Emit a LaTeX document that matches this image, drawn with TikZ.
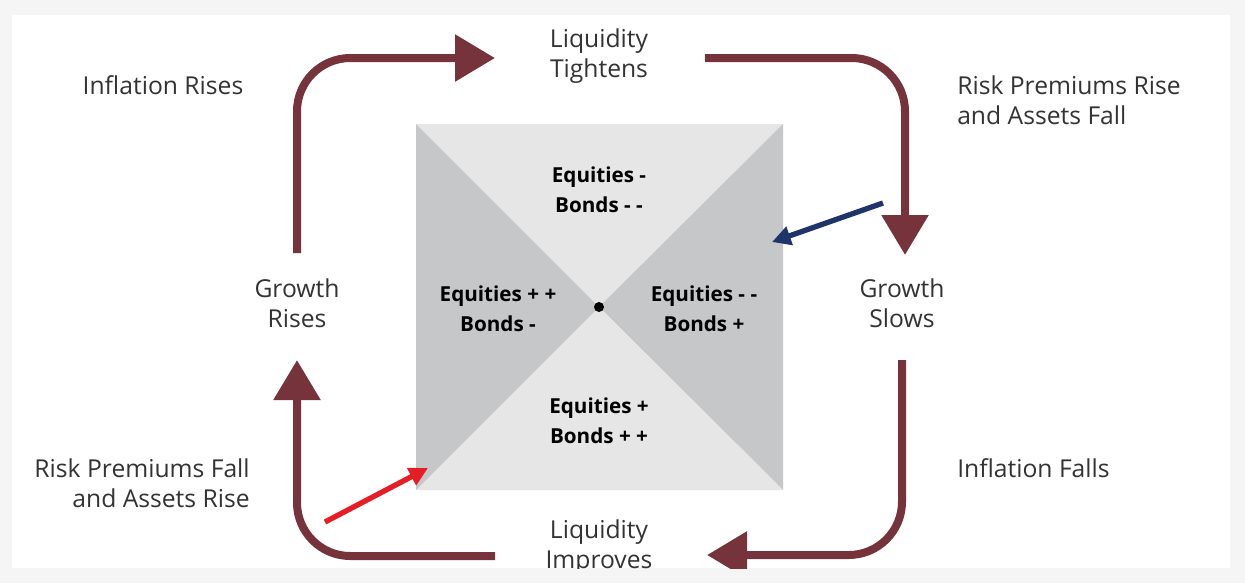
\documentclass[tikz,border=0pt]{standalone}
\usepackage{fontspec}
\setmainfont{Open Sans}
\usetikzlibrary{arrows.meta}
\definecolor{maroon}{HTML}{76333B}
\definecolor{navy}{HTML}{1F3468}
\definecolor{rd}{HTML}{E31E24}
\definecolor{lite}{HTML}{E6E6E6}
\definecolor{dark}{HTML}{C6C7C9}
\begin{document}
\begin{tikzpicture}[x=0.75pt,y=-0.75pt,
  lbl/.style={font=\fontsize{18.5}{22.5}\selectfont,text=black!80,align=center,inner sep=0pt},
  eq/.style={font=\bfseries\fontsize{15.5}{22.5}\selectfont,align=center,inner sep=0pt},
  cyc/.style={draw=maroon,line width=6pt,-{Triangle[length=30pt,width=34pt]},rounded corners=40pt},
  pt/.style={line width=4pt,-{Triangle[length=14pt,width=14pt]}}]
\useasboundingbox (0,0) rectangle (1245,583);
\fill[black!4] (0,0) rectangle (1245,583);
\fill[white] (12,15) rectangle (1230,568);
\begin{scope}
\clip (12,15) rectangle (1230,568);
\coordinate (A) at (416,124); \coordinate (B) at (783,124);
\coordinate (C) at (783,490); \coordinate (D) at (416,490);
\coordinate (O) at (599,307);
\fill[lite] (A)--(B)--(O)--cycle;
\fill[dark] (B)--(C)--(O)--cycle;
\fill[lite] (C)--(D)--(O)--cycle;
\fill[dark] (D)--(A)--(O)--cycle;
\fill (O) circle (5);
\coordinate (s1) at (297,253); \coordinate (c1) at (297,58); \coordinate (e1) at (495,58);
\coordinate (s2) at (705,58); \coordinate (c2) at (905,58); \coordinate (e2) at (905,255);
\coordinate (s3) at (902,360); \coordinate (c3) at (902,555); \coordinate (e3) at (707,555);
\coordinate (s4) at (495,556); \coordinate (c4) at (297,556); \coordinate (e4) at (297,360);
\draw[cyc] (s1)--(c1)--(e1);
\draw[cyc] (s2)--(c2)--(e2);
\draw[cyc] (s3)--(c3)--(e3);
\draw[cyc] (s4)--(c4)--(e4);
\coordinate (b1) at (883,203); \coordinate (b2) at (772,242);
\coordinate (r1) at (325,522); \coordinate (r2) at (428,468);
\draw[pt,navy] (b1)--(b2);
\draw[pt,rd] (r1)--(r2);
\node[lbl] (lt) at (599,56) {Liquidity\\Tightens};
\node[lbl] (ir) at (163,85) {Inflation Rises};
\node[lbl,anchor=west,align=left] (rpr) at (957,100) {Risk Premiums Rise\\and Assets Fall};
\node[lbl] (gr) at (297,303) {Growth\\Rises};
\node[lbl] (gs) at (902,303) {Growth\\Slows};
\node[lbl,anchor=east,align=right] (rpf) at (250,483) {Risk Premiums Fall\\and Assets Rise};
\node[lbl,anchor=west] (if) at (957,468) {Inflation Falls};
\node[lbl] (li) at (599,547) {Liquidity\\Improves};
\node[eq] (et) at (599,190) {Equities -\\Bonds - -};
\node[eq] (el) at (498,309) {Equities + +\\Bonds -};
\node[eq] (er) at (704,309) {Equities - -\\Bonds +};
\node[eq] (eb) at (599,421) {Equities +\\Bonds + +};
\end{scope}
\end{tikzpicture}
\end{document}
